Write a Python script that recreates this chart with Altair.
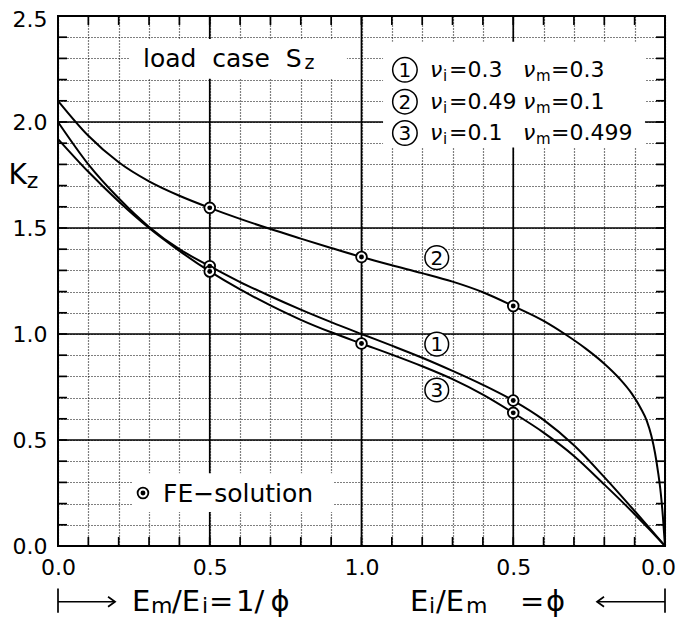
import altair as alt
import pandas as pd

FONT = "DejaVu Sans"

# ---------------- data ----------------
x_13 = [0.0, 0.1, 0.2, 0.3, 0.4, 0.5, 0.6, 0.7, 0.8, 0.9, 1.0, 1.1, 1.2, 1.3, 1.4,
        1.5, 1.6, 1.7, 1.8, 1.9, 1.95, 2.0]
k_1 = [2.00, 1.80, 1.64, 1.505, 1.40, 1.32, 1.245, 1.178, 1.115, 1.056, 1.00, 0.945,
       0.888, 0.826, 0.76, 0.686, 0.595, 0.475, 0.325, 0.165, 0.083, 0.0]
k_3 = [1.92, 1.765, 1.625, 1.50, 1.392, 1.295, 1.21, 1.135, 1.067, 1.008, 0.955, 0.903,
       0.848, 0.787, 0.714, 0.628, 0.535, 0.425, 0.29, 0.15, 0.076, 0.0]
x_2 = [0.0, 0.1, 0.2, 0.3, 0.4, 0.5, 0.6, 0.7, 0.8, 0.9, 1.0, 1.1, 1.2, 1.3, 1.4, 1.5,
       1.6, 1.67, 1.74, 1.8, 1.85, 1.89, 1.92, 1.94, 1.955, 1.967, 1.977, 1.986, 1.993, 2.0]
k_2 = [2.10, 1.935, 1.81, 1.72, 1.652, 1.595, 1.543, 1.495, 1.45, 1.406, 1.363, 1.324,
       1.287, 1.247, 1.197, 1.132, 1.062, 1.0, 0.93, 0.86, 0.79, 0.72, 0.65, 0.59, 0.52,
       0.44, 0.35, 0.25, 0.14, 0.0]

fe_x = [0.5, 1.5, 0.5, 1.0, 1.5, 0.5, 1.0, 1.5]
fe_y = [1.32, 0.686, 1.595, 1.363, 1.132, 1.295, 0.955, 0.628]

curve_labels = ["1", "2", "3"]
curve_label_x = [1.248, 1.248, 1.248]
curve_label_y = [0.952, 1.36, 0.736]

legend_ids = ["1", "2", "3"]
legend_row_y = [2.246, 2.096, 1.948]
nu_i = ["0.3", "0.49", "0.1"]
nu_m = ["0.3", "0.1", "0.499"]

x_minor = [round(i * 0.1, 1) for i in range(21)]
y_minor = [round(i * 0.1, 1) for i in range(26)]
x_major = [0.5, 1.0, 1.5]
y_major = [0.5, 1.0, 1.5, 2.0]
x_inner_ticks = [round(i * 0.1, 1) for i in range(1, 20)]
y_inner_ticks = [round(i * 0.1, 1) for i in range(1, 25)]

# bottom axis captions, split into pieces (text, x in data units, main/sub)
left_caption = [("E", 0.2438, "main"), ("m", 0.3064, "sub"), ("/E", 0.3756, "main"),
                ("i", 0.4745, "sub"), ("=", 0.4975, "main"), ("1/", 0.5865, "main"),
                ("ϕ", 0.7000, "main")]
right_caption = [("E", 1.1598, "main"), ("i", 1.2224, "sub"), ("/E", 1.2455, "main"),
                 ("m", 1.3443, "sub"), ("=", 1.5223, "main"), ("ϕ", 1.6079, "main")]

# ---------------- scales / helpers ----------------
xs = alt.Scale(domain=[0, 2], nice=False, zero=False)
ys = alt.Scale(domain=[0, 2.5], nice=False, zero=False)

x_axis = alt.Axis(values=x_minor, grid=True, gridDash=[1, 2], gridColor="black",
                  gridWidth=1.2, gridOpacity=1, ticks=False, tickSize=0, domain=False,
                  labelExpr="round(datum.value*10)%5==0 ? format(datum.value<=1 ? datum.value : 2-datum.value, '.1f') : ''",
                  labelOffset={"condition": {"test": "datum.value > 1.95", "value": -7}, "value": 0},
                  labelFont=FONT, labelFontSize=22, labelColor="black", labelPadding=11,
                  labelFlush=False, labelOverlap=False, title=None)
y_axis = alt.Axis(values=y_minor, grid=True, gridDash=[1, 2], gridColor="black",
                  gridWidth=1.2, gridOpacity=1, ticks=False, tickSize=0, domain=False,
                  labelExpr="round(datum.value*10)%5==0 ? format(datum.value, '.1f') : ''",
                  labelOffset={"condition": {"test": "datum.value > 2.45", "value": 3}, "value": 0},
                  labelFont=FONT, labelFontSize=22, labelColor="black", labelPadding=11,
                  labelFlush=False, labelOverlap=False, title=None)


def X(f="x"):
    return alt.X(f"{f}:Q", scale=xs, axis=x_axis, title=None)


def Y(f="y"):
    return alt.Y(f"{f}:Q", scale=ys, axis=y_axis, title=None)


def T(text, x, y, size, dx=0, dy=0, align="left", baseline="alphabetic", italic=False):
    d = pd.DataFrame({"x": [x], "y": [y], "t": [text]})
    kw = dict(align=align, baseline=baseline, dx=dx, dy=dy, fontSize=size,
              font=FONT, color="black")
    if italic:
        kw["fontStyle"] = "italic"
    return alt.Chart(d).mark_text(**kw).encode(x=X(), y=Y(), text="t:N")


def box(x0, x1, y0, y1):
    d = pd.DataFrame({"x": [x0], "x2": [x1], "y": [y0], "y2": [y1]})
    return alt.Chart(d).mark_rect(fill="white", opacity=1, strokeWidth=0).encode(
        x=X(), x2="x2:Q", y=Y(), y2="y2:Q")


curves = pd.concat([
    pd.DataFrame({"x": x_13, "y": k_1, "s": "1"}),
    pd.DataFrame({"x": x_2, "y": k_2, "s": "2"}),
    pd.DataFrame({"x": x_13, "y": k_3, "s": "3"}),
])

layers = []

# major solid grid
layers.append(alt.Chart(pd.DataFrame({"x": x_major})).mark_rule(color="black", strokeWidth=1.7).encode(x=X()))
layers.append(alt.Chart(pd.DataFrame({"y": y_major})).mark_rule(color="black", strokeWidth=1.7).encode(y=Y()))

# white boxes behind texts
layers.append(box(0.237, 0.952, 2.204, 2.392))
layers.append(box(1.071, 1.934, 1.88, 2.378))
layers.append(box(0.247, 0.906, 0.16, 0.343))

# curves
layers.append(alt.Chart(curves).mark_line(interpolate="monotone", color="black", strokeWidth=2).encode(
    x=X(), y=Y(), detail="s:N"))

# FE markers
fe = pd.DataFrame({"x": fe_x, "y": fe_y})
layers.append(alt.Chart(fe).mark_point(shape="circle", size=115, filled=True, fill="white",
                                        stroke="black", strokeWidth=1.8, opacity=1).encode(x=X(), y=Y()))
layers.append(alt.Chart(fe).mark_point(shape="circle", size=24, filled=True, color="black",
                                        opacity=1).encode(x=X(), y=Y()))

# curve labels
cl = pd.DataFrame({"x": curve_label_x, "y": curve_label_y, "t": curve_labels})
layers.append(alt.Chart(cl).mark_point(shape="circle", size=560, filled=True, fill="white",
                                        stroke="black", strokeWidth=1.5, opacity=1).encode(x=X(), y=Y()))
layers.append(alt.Chart(cl).mark_text(fontSize=20, font=FONT, align="center", baseline="middle",
                                       dy=1, color="black").encode(x=X(), y=Y(), text="t:N"))

# legend
lg = pd.DataFrame({"x": [1.143] * 3, "y": legend_row_y, "t": legend_ids})
layers.append(alt.Chart(lg).mark_point(shape="circle", size=600, filled=True, fill="white",
                                        stroke="black", strokeWidth=1.5, opacity=1).encode(x=X(), y=Y()))
layers.append(alt.Chart(lg).mark_text(fontSize=20, font=FONT, align="center", baseline="middle",
                                       dy=1, color="black").encode(x=X(), y=Y(), text="t:N"))
for i in range(3):
    ry = legend_row_y[i]
    layers.append(T("ν", 1.226, ry, 22, dy=7, italic=True))
    layers.append(T("i", 1.226, ry, 15, dx=13, dy=11))
    layers.append(T("=" + nu_i[i], 1.226, ry, 22, dx=19, dy=7))
    layers.append(T("ν", 1.532, ry, 22, dy=7, italic=True))
    layers.append(T("m", 1.532, ry, 15, dx=13, dy=11))
    layers.append(T("=" + nu_m[i], 1.532, ry, 22, dx=28, dy=7))

# load case text
layers.append(T("load\u00a0\u00a0case\u00a0\u00a0S", 0.28, 2.26, 25))
layers.append(T("z", 0.812, 2.248, 19))

# FE-solution legend
fe_leg = pd.DataFrame({"x": [0.28], "y": [0.25]})
layers.append(alt.Chart(fe_leg).mark_point(shape="circle", size=115, filled=True, fill="white",
                                            stroke="black", strokeWidth=1.8, opacity=1).encode(x=X(), y=Y()))
layers.append(alt.Chart(fe_leg).mark_point(shape="circle", size=24, filled=True, color="black",
                                            opacity=1).encode(x=X(), y=Y()))
layers.append(T("FE−solution", 0.346, 0.25, 25, baseline="middle", dy=1))

# inward ticks on all four sides
layers.append(alt.Chart(pd.DataFrame({"x": x_inner_ticks, "y": 0.0})).mark_tick(
    orient="vertical", size=9, thickness=1.7, color="black", yOffset=-4.5, opacity=1).encode(x=X(), y=Y()))
layers.append(alt.Chart(pd.DataFrame({"x": x_inner_ticks, "y": 2.5})).mark_tick(
    orient="vertical", size=9, thickness=1.7, color="black", yOffset=4.5, opacity=1).encode(x=X(), y=Y()))
layers.append(alt.Chart(pd.DataFrame({"y": y_inner_ticks, "x": 0.0})).mark_tick(
    orient="horizontal", size=9, thickness=1.7, color="black", xOffset=4.5, opacity=1).encode(x=X(), y=Y()))
layers.append(alt.Chart(pd.DataFrame({"y": y_inner_ticks, "x": 2.0})).mark_tick(
    orient="horizontal", size=9, thickness=1.7, color="black", xOffset=-4.5, opacity=1).encode(x=X(), y=Y()))

# y-axis title K_z
layers.append(T("K", -0.163, 1.706, 28))
layers.append(T("z", -0.103, 1.69, 22))

# bottom annotations: arrows
AY = -0.263
arrows = pd.DataFrame({"x": [0.0, 1.776], "x2": [0.188, 2.0], "y": [AY, AY]})
layers.append(alt.Chart(arrows).mark_rule(color="black", strokeWidth=1.7).encode(x=X(), x2="x2:Q", y=Y()))
bars = pd.DataFrame({"x": [0.0, 2.0], "y": [-0.2, -0.2], "y2": [-0.315, -0.315]})
layers.append(alt.Chart(bars).mark_rule(color="black", strokeWidth=1.7).encode(x=X(), y=Y(), y2="y2:Q"))
layers.append(alt.Chart(pd.DataFrame({"x": [0.188], "y": [AY]})).mark_point(
    shape="M-1.4,-1L0,0L-1.4,1", size=100, filled=False, stroke="black", strokeWidth=1.7,
    opacity=1).encode(x=X(), y=Y()))
layers.append(alt.Chart(pd.DataFrame({"x": [1.776], "y": [AY]})).mark_point(
    shape="M1.4,-1L0,0L1.4,1", size=100, filled=False, stroke="black", strokeWidth=1.7,
    opacity=1).encode(x=X(), y=Y()))

# bottom annotations: texts
BY = -0.3066
for txt, xx, kind in left_caption + right_caption:
    if kind == "main":
        layers.append(T(txt, xx, BY, 29))
    else:
        layers.append(T(txt, xx, BY - 0.011, 22))

chart = alt.layer(*layers).properties(
    width=607, height=530,
    autosize=alt.AutoSizeParams(type="none"),
    padding={"left": 50, "top": 8, "right": 12, "bottom": 71},
    background="white",
).configure_view(stroke="black", strokeWidth=2)

chart.save("out.html", embed_options={"renderer": "svg", "actions": False})
